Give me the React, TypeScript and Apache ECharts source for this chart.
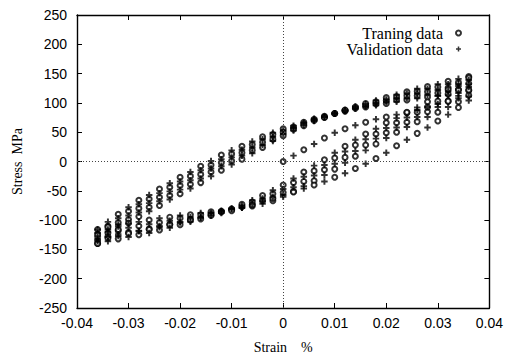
import React, { useEffect, useRef } from "react";
import * as echarts from "echarts";

const strainGrid = [
  -0.036, -0.034, -0.032, -0.03, -0.028, -0.026, -0.024, -0.022, -0.02, -0.018,
  -0.016, -0.014, -0.012, -0.01, -0.008, -0.006, -0.004, -0.002, 0, 0.002,
  0.004, 0.006, 0.008, 0.01, 0.012, 0.014, 0.016, 0.018, 0.02, 0.022,
  0.024, 0.026, 0.028, 0.03, 0.032, 0.034, 0.036,
];

// Unloading (descending) branches, stress in MPa at each strainGrid point
const desc1 = [-116, -103, -90, -78, -66, -57, -47, -37, -27, -18, -8, 1, 11, 19, 26, 34, 42, 49, 56, 61, 67, 73, 77, 82, 86, 90, 93, 96, 99, 102, 105, 108, 110, 112, 115, 117, 121];
const desc2 = [-122, -110, -97, -85, -73, -64, -54, -44, -34, -25, -15, -6, 4, 13, 20, 29, 38, 46, 53, 59, 66, 72, 76, 82, 86, 91, 94, 98, 102, 105, 108, 112, 114, 117, 120, 123, 127];
const desc3 = [-128, -116, -104, -92, -80, -71, -61, -51, -41, -32, -22, -12, -2, 7, 15, 24, 33, 42, 50, 57, 64, 71, 76, 82, 87, 92, 96, 100, 104, 108, 112, 116, 119, 122, 126, 129, 133];
const desc4 = [-134, -122, -111, -99, -87, -78, -68, -58, -48, -39, -29, -18, -8, 1, 10, 19, 28, 38, 47, 55, 62, 70, 76, 82, 88, 93, 98, 102, 106, 111, 116, 120, 124, 127, 132, 135, 139];
const desc5 = [-140, -129, -118, -106, -94, -85, -75, -65, -55, -46, -36, -25, -15, -5, 4, 14, 24, 35, 44, 53, 61, 69, 75, 82, 88, 94, 99, 104, 109, 114, 119, 124, 128, 132, 137, 141, 145];

// Reloading (ascending) branches
const asc1 = [-116, -112, -108, -105, -103, -100, -97, -95, -92, -91, -88, -86, -84, -82, -79, -76, -72, -67, -60, -51, -42, -33, -23, -13, -2, 9, 19, 30, 40, 50, 59, 68, 76, 84, 93, 102, 111];
const asc2 = [-124, -120, -116, -113, -110, -107, -104, -101, -97, -95, -91, -88, -85, -81, -77, -73, -67, -61, -53, -44, -34, -24, -14, -4, 7, 18, 28, 39, 49, 58, 67, 76, 85, 93, 103, 112, 122];
const asc3 = [-132, -128, -124, -121, -118, -115, -110, -107, -103, -99, -95, -90, -85, -81, -75, -69, -63, -55, -47, -36, -26, -16, -6, 6, 17, 28, 38, 47, 57, 66, 75, 84, 93, 103, 113, 122, 132];
const asc4 = [-140, -136, -132, -129, -125, -122, -117, -113, -108, -103, -98, -92, -86, -80, -73, -66, -58, -49, -40, -29, -18, -7, 3, 15, 26, 37, 47, 56, 66, 74, 83, 92, 102, 112, 123, 132, 143];
const ascLow = [-136, -131, -127, -123, -119, -116, -112, -108, -104, -100, -96, -92, -88, -84, -79, -74, -68, -63, -57, -52, -46, -40, -34, -27, -20, -12, -4, 5, 15, 27, 37, 48, 58, 69, 80, 92, 104];

// Initial (virgin) loading curve
const virginStrain = [0, 0.002, 0.004, 0.006, 0.008, 0.01, 0.012, 0.014, 0.016, 0.018, 0.02, 0.022, 0.024, 0.026, 0.028, 0.03, 0.032, 0.034, 0.036];
const virginStress = [0, 10, 20, 30, 40, 49, 56, 62, 67, 72, 76, 80, 84, 88, 93, 98, 103, 108, 113];

const xTicks = { min: -0.04, max: 0.04, interval: 0.01 };
const yTicks = { min: -250, max: 250, interval: 50 };

const PLUS = "path://M0,3.5H10V6.5H0Z M3.5,0H6.5V10H3.5Z";

export default function App() {
  const ref = useRef<HTMLDivElement>(null);
  useEffect(() => {
    if (!ref.current) return;
    const chart = echarts.init(ref.current, null, { renderer: "svg" });

    const branches: number[][][] = [];
    [desc1, desc2, desc3, desc4, desc5, asc1, asc2, asc3, asc4, ascLow].forEach((arr) => {
      branches.push(arr.map((v, i) => [strainGrid[i], v]));
    });
    branches.push(virginStress.map((v, i) => [virginStrain[i], v]));

    const train: number[][] = [];
    const valid: number[][] = [];
    branches.forEach((b, bi) => {
      b.forEach((p, i) => {
        if ((i + bi) % 2 === 0) train.push(p);
        else valid.push(p);
      });
    });

    const tickFont = { fontFamily: "Liberation Sans", fontSize: 14, color: "#000" };
    const serif = { fontFamily: "Liberation Serif", fontSize: 14, color: "#000" };
    const axisLine = { show: true, onZero: false, lineStyle: { color: "#000", width: 1.4 } };
    const tick = { show: true, inside: true, length: 5, lineStyle: { color: "#000", width: 1 } };

    chart.setOption({
      animation: false,
      backgroundColor: "#fff",
      grid: { left: 77, right: 14, top: 15, bottom: 54 },
      legend: {
        orient: "vertical",
        align: "right",
        right: 39,
        top: 20,
        itemGap: 0,
        itemWidth: 5,
        itemHeight: 5,
        textStyle: { ...serif, fontSize: 16, lineHeight: 14, padding: [0, 8, 0, 0] },
        data: ["Traning data", "Validation data"],
      },
      xAxis: [
        {
          type: "value",
          ...xTicks,
          position: "bottom",
          name: "Strain    %",
          nameLocation: "middle",
          nameGap: 32,
          nameTextStyle: serif,
          axisLine,
          axisTick: tick,
          axisLabel: { ...tickFont, margin: 8 },
          splitLine: { show: false },
        },
        {
          type: "value",
          ...xTicks,
          position: "top",
          axisLine,
          axisTick: tick,
          axisLabel: { show: false },
          splitLine: { show: false },
        },
      ],
      yAxis: [
        {
          type: "value",
          ...yTicks,
          position: "left",
          name: "Stress  MPa",
          nameLocation: "middle",
          nameGap: 53,
          nameTextStyle: serif,
          axisLine,
          axisTick: tick,
          axisLabel: { ...tickFont, margin: 10 },
          splitLine: { show: false },
        },
        {
          type: "value",
          ...yTicks,
          position: "right",
          axisLine,
          axisTick: tick,
          axisLabel: { show: false },
          splitLine: { show: false },
        },
      ],
      series: [
        {
          name: "Traning data",
          type: "scatter",
          data: train,
          symbol: "emptyCircle",
          symbolSize: 5,
          itemStyle: { color: "#000", borderColor: "#000", borderWidth: 1.7 },
          markLine: {
            silent: true,
            symbol: "none",
            label: { show: false },
            lineStyle: { color: "#444", type: [1, 2], width: 1 },
            data: [{ xAxis: 0 }, { yAxis: 0 }],
          },
          z: 3,
        },
        {
          name: "Validation data",
          type: "scatter",
          data: valid,
          symbol: PLUS,
          symbolSize: 6.5,
          itemStyle: { color: "#000" },
          z: 3,
        },
      ],
    });
    return () => chart.dispose();
  }, []);
  return <div ref={ref} style={{ width: 506, height: 362, position: "absolute", left: 0, top: 0 }} />;
}
